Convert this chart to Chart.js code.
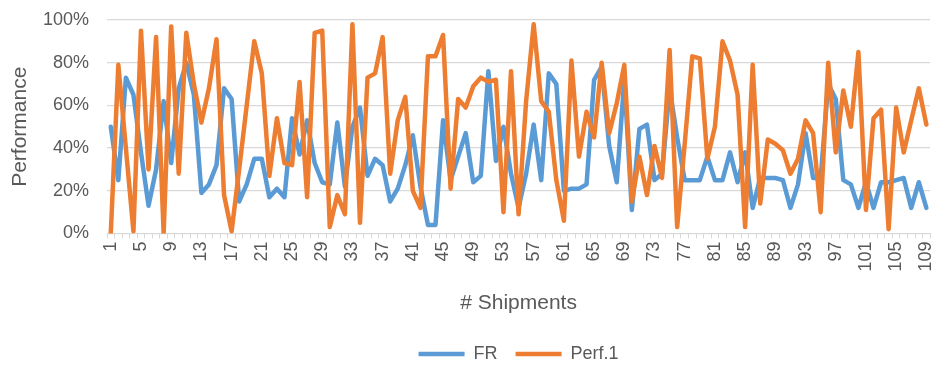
<!DOCTYPE html>
<html>
<head>
<meta charset="utf-8">
<script src="https://cdn.jsdelivr.net/npm/chart.js@4/dist/chart.umd.min.js"></script>
<style>
  html, body { margin: 0; padding: 0; background: #ffffff; }
  #chart { display: block; }
</style>
</head>
<body>
<canvas id="chart" width="951" height="365"></canvas>
<script>
// Shipment numbers 1..109 along the category axis
const shipments = [];
for (let n = 1; n <= 109; n++) shipments.push(String(n));

// FR performance per shipment (%)
const frValues = [
  50, 25, 73, 65, 38, 13, 30, 62, 33, 68,
  80, 65, 19, 23, 32, 68, 63, 15, 23, 35,
  35, 17, 21, 17, 54, 37, 53, 33, 24, 23,
  52, 22, 50, 59, 27, 35, 32, 15, 21, 32,
  46, 22, 4, 4, 53, 25, 36, 47, 24, 27,
  76, 34, 50, 28, 12, 28, 51, 25, 75, 70,
  20, 21, 21, 23, 72, 78, 41, 24, 72, 11,
  49, 51, 25, 28, 68, 45, 25, 25, 25, 36,
  25, 25, 38, 24, 38, 12, 26, 26, 26, 25,
  12, 23, 47, 26, 26, 70, 63, 25, 23, 12,
  24, 12, 24, 24, 25, 26, 12, 24, 12
];

// Perf.1 per shipment (%)
const perfValues = [
  0, 79, 40, 1, 95, 30, 92, 0, 97, 28,
  94, 70, 52, 68, 91, 18, 1, 30, 60, 90,
  75, 27, 54, 33, 32, 71, 17, 94, 95, 3,
  18, 9, 98, 5, 73, 75, 92, 28, 53, 64,
  20, 12, 83, 83, 93, 21, 63, 59, 69, 73,
  71, 72, 10, 76, 9, 62, 98, 62, 57, 25,
  6, 81, 36, 57, 45, 80, 47, 61, 79, 15,
  36, 18, 41, 26, 86, 3, 42, 83, 82, 35,
  50, 90, 81, 65, 3, 79, 14, 44, 42, 39,
  28, 35, 53, 47, 10, 80, 38, 67, 50, 85,
  11, 54, 58, 2, 59, 38, 53, 68, 51
];

// Percentage ticks on the value axis
const percentTicks = [0, 20, 40, 60, 80, 100];

const seriesNames = ['FR', 'Perf.1'];
const seriesColors = ['#5B9BD5', '#ED7D31'];

const FONT = "'Liberation Sans', Arial, sans-serif";
const TEXT = '#595959';
const GRID = '#D9D9D9';

function lineDataset(label, data, color, order) {
  return {
    label: label,
    data: data,
    borderColor: color,
    backgroundColor: color,
    borderWidth: 4.5,
    borderCapStyle: 'round',
    borderJoinStyle: 'round',
    tension: 0,
    pointRadius: 0,
    pointHoverRadius: 0,
    pointStyle: 'line',
    order: order
  };
}

new Chart(document.getElementById('chart'), {
  type: 'line',
  data: {
    labels: shipments,
    datasets: [
      lineDataset(seriesNames[0], frValues, seriesColors[0], 2),
      lineDataset(seriesNames[1], perfValues, seriesColors[1], 1)
    ]
  },
  options: {
    responsive: false,
    animation: false,
    devicePixelRatio: 1,
    layout: { padding: { top: 20, right: 6, bottom: -8, left: 0 } },
    plugins: {
      tooltip: { enabled: false },
      legend: {
        position: 'bottom',
        fullSize: false,
        labels: {
          usePointStyle: true,
          pointStyle: 'line',
          pointStyleWidth: 46,
          padding: 18,
          color: TEXT,
          font: { family: FONT, size: 18 },
          sort: (a, b) => a.datasetIndex - b.datasetIndex
        }
      }
    },
    scales: {
      x: {
        type: 'category',
        offset: true,
        grid: {
          offset: true,
          drawOnChartArea: false,
          drawTicks: true,
          tickLength: 5,
          color: GRID,
          lineWidth: 1
        },
        border: { display: true, color: GRID, width: 1 },
        ticks: {
          autoSkip: false,
          minRotation: 90,
          maxRotation: 90,
          padding: 3,
          color: TEXT,
          font: { family: FONT, size: 18 },
          callback: function (value, index) {
            return index % 4 === 0 ? shipments[index] : '';
          }
        },
        title: {
          display: true,
          text: '# Shipments',
          color: TEXT,
          font: { family: FONT, size: 21 },
          padding: { top: 0, bottom: 11 }
        },
        afterFit: function (scale) { scale.height = 93.5; }
      },
      y: {
        min: percentTicks[0],
        max: percentTicks[percentTicks.length - 1],
        afterBuildTicks: function (scale) {
          scale.ticks = percentTicks.map(v => ({ value: v }));
        },
        grid: {
          color: GRID,
          lineWidth: 1.3,
          drawTicks: true,
          tickLength: 18,
          tickColor: 'rgba(0,0,0,0)'
        },
        border: { display: false },
        ticks: {
          padding: 0,
          color: TEXT,
          font: { family: FONT, size: 18 },
          callback: v => v + '%'
        },
        title: {
          display: true,
          text: 'Performance',
          color: TEXT,
          font: { family: FONT, size: 21 },
          padding: { top: 8, bottom: 0 }
        },
        afterFit: function (scale) { scale.width = 107; }
      }
    }
  }
});
</script>
</body>
</html>
